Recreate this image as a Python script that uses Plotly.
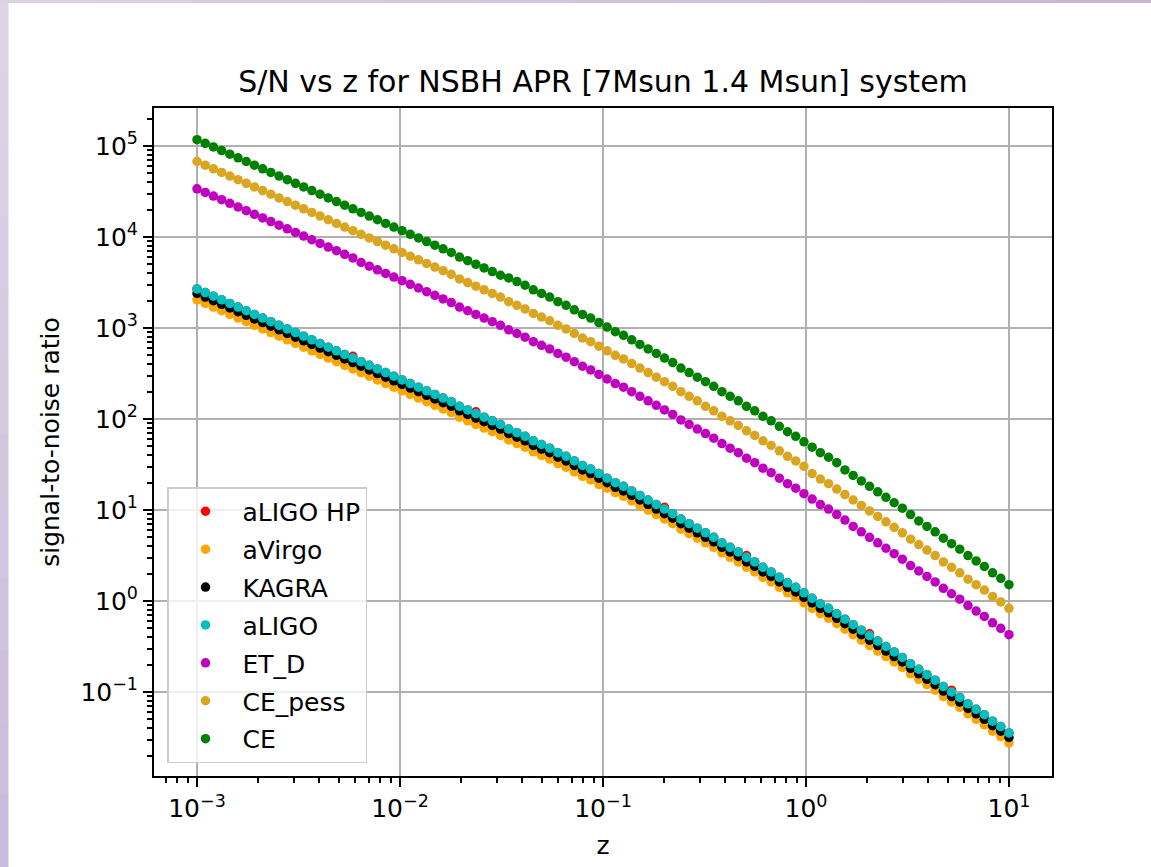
import numpy as np
import plotly.graph_objects as go

# ---------------- data ----------------
# redshift grid (100 log-spaced samples from 1e-3 to 10, as in the figure)
z = np.logspace(-3, 1, 100)

# log10(S/N), one value per sample of z
log_snr_aLIGO = [
    3.43, 3.39, 3.35, 3.31, 3.27, 3.23, 3.19, 3.15, 3.11, 3.07,
    3.03, 2.99, 2.95, 2.91, 2.87, 2.83, 2.79, 2.75, 2.71, 2.67,
    2.63, 2.59, 2.55, 2.51, 2.47, 2.43, 2.39, 2.35, 2.31, 2.27,
    2.23, 2.19, 2.14, 2.10, 2.06, 2.02, 1.98, 1.94, 1.89, 1.85,
    1.81, 1.76, 1.72, 1.68, 1.63, 1.59, 1.54, 1.49, 1.45, 1.40,
    1.35, 1.30, 1.26, 1.21, 1.16, 1.11, 1.06, 1.01, 0.96, 0.90,
    0.85, 0.80, 0.75, 0.70, 0.64, 0.59, 0.54, 0.48, 0.43, 0.37,
    0.32, 0.26, 0.20, 0.15, 0.09, 0.03, -0.03, -0.08, -0.14, -0.20,
    -0.26, -0.32, -0.38, -0.44, -0.50, -0.56, -0.62, -0.69, -0.75, -0.81,
    -0.87, -0.94, -1.00, -1.06, -1.13, -1.19, -1.25, -1.32, -1.38, -1.45]

log_snr_aLIGO_HP = [
    3.43, 3.39, 3.35, 3.31, 3.27, 3.23, 3.19, 3.15, 3.11, 3.07,
    3.03, 2.99, 2.95, 2.91, 2.87, 2.83, 2.79, 2.75, 2.71, 2.69,
    2.63, 2.59, 2.55, 2.51, 2.47, 2.43, 2.39, 2.35, 2.31, 2.27,
    2.23, 2.19, 2.14, 2.10, 2.08, 2.02, 1.98, 1.94, 1.89, 1.85,
    1.81, 1.76, 1.72, 1.68, 1.63, 1.59, 1.54, 1.49, 1.45, 1.40,
    1.35, 1.30, 1.26, 1.21, 1.16, 1.11, 1.06, 1.03, 0.96, 0.90,
    0.85, 0.80, 0.75, 0.70, 0.64, 0.59, 0.54, 0.50, 0.43, 0.37,
    0.32, 0.26, 0.20, 0.15, 0.09, 0.03, -0.03, -0.08, -0.14, -0.20,
    -0.26, -0.32, -0.36, -0.44, -0.50, -0.56, -0.62, -0.69, -0.75, -0.81,
    -0.87, -0.94, -0.98, -1.06, -1.13, -1.19, -1.25, -1.32, -1.38, -1.45]

log_snr_KAGRA = [
    3.38, 3.34, 3.30, 3.26, 3.22, 3.18, 3.14, 3.10, 3.06, 3.02,
    2.98, 2.94, 2.90, 2.86, 2.82, 2.78, 2.74, 2.70, 2.66, 2.62,
    2.58, 2.54, 2.50, 2.46, 2.42, 2.38, 2.34, 2.30, 2.26, 2.22,
    2.18, 2.14, 2.09, 2.05, 2.01, 1.97, 1.93, 1.89, 1.84, 1.80,
    1.76, 1.71, 1.67, 1.63, 1.58, 1.54, 1.49, 1.44, 1.40, 1.35,
    1.30, 1.25, 1.21, 1.16, 1.11, 1.06, 1.01, 0.96, 0.91, 0.85,
    0.80, 0.75, 0.70, 0.65, 0.59, 0.54, 0.49, 0.43, 0.38, 0.32,
    0.27, 0.21, 0.15, 0.10, 0.04, -0.02, -0.08, -0.13, -0.19, -0.25,
    -0.31, -0.37, -0.43, -0.49, -0.55, -0.61, -0.67, -0.74, -0.80, -0.86,
    -0.92, -0.99, -1.05, -1.11, -1.18, -1.24, -1.30, -1.37, -1.43, -1.50]

log_snr_aVirgo = [
    3.31, 3.27, 3.23, 3.19, 3.15, 3.11, 3.07, 3.03, 2.99, 2.95,
    2.91, 2.87, 2.83, 2.79, 2.75, 2.71, 2.67, 2.63, 2.59, 2.55,
    2.51, 2.47, 2.43, 2.39, 2.35, 2.31, 2.27, 2.23, 2.19, 2.15,
    2.11, 2.07, 2.02, 1.98, 1.94, 1.90, 1.86, 1.82, 1.77, 1.73,
    1.69, 1.64, 1.60, 1.56, 1.51, 1.47, 1.42, 1.37, 1.33, 1.28,
    1.24, 1.19, 1.15, 1.10, 1.05, 1.00, 0.95, 0.90, 0.85, 0.79,
    0.74, 0.69, 0.64, 0.59, 0.53, 0.48, 0.43, 0.37, 0.32, 0.26,
    0.21, 0.15, 0.09, 0.04, -0.02, -0.08, -0.14, -0.19, -0.25, -0.31,
    -0.37, -0.43, -0.49, -0.55, -0.61, -0.67, -0.73, -0.80, -0.86, -0.92,
    -0.98, -1.05, -1.11, -1.17, -1.24, -1.30, -1.36, -1.43, -1.49, -1.56]

log_snr_ET_D = [
    4.53, 4.49, 4.45, 4.41, 4.37, 4.33, 4.29, 4.25, 4.21, 4.17,
    4.13, 4.09, 4.05, 4.01, 3.97, 3.93, 3.89, 3.85, 3.81, 3.77,
    3.72, 3.68, 3.64, 3.60, 3.56, 3.52, 3.48, 3.44, 3.40, 3.36,
    3.32, 3.28, 3.23, 3.19, 3.15, 3.11, 3.07, 3.03, 2.98, 2.94,
    2.90, 2.85, 2.81, 2.77, 2.72, 2.68, 2.63, 2.58, 2.54, 2.49,
    2.44, 2.39, 2.35, 2.30, 2.25, 2.20, 2.15, 2.10, 2.05, 1.99,
    1.94, 1.89, 1.84, 1.79, 1.73, 1.68, 1.63, 1.57, 1.52, 1.46,
    1.41, 1.35, 1.29, 1.24, 1.18, 1.12, 1.06, 1.01, 0.95, 0.89,
    0.82, 0.76, 0.70, 0.64, 0.58, 0.52, 0.46, 0.39, 0.33, 0.27,
    0.21, 0.14, 0.08, 0.02, -0.05, -0.11, -0.17, -0.24, -0.30, -0.37]

log_snr_CE_pess = [
    4.83, 4.79, 4.75, 4.71, 4.67, 4.63, 4.59, 4.55, 4.51, 4.47,
    4.43, 4.39, 4.35, 4.31, 4.27, 4.23, 4.19, 4.15, 4.11, 4.07,
    4.03, 3.99, 3.95, 3.91, 3.87, 3.83, 3.79, 3.75, 3.71, 3.67,
    3.63, 3.59, 3.54, 3.50, 3.46, 3.42, 3.38, 3.34, 3.29, 3.25,
    3.21, 3.16, 3.12, 3.08, 3.03, 2.99, 2.94, 2.89, 2.85, 2.80,
    2.75, 2.70, 2.66, 2.61, 2.56, 2.51, 2.46, 2.41, 2.36, 2.30,
    2.25, 2.20, 2.14, 2.09, 2.03, 1.98, 1.93, 1.87, 1.82, 1.76,
    1.71, 1.65, 1.59, 1.54, 1.48, 1.40, 1.34, 1.29, 1.23, 1.17,
    1.11, 1.05, 0.99, 0.93, 0.87, 0.81, 0.75, 0.68, 0.62, 0.56,
    0.50, 0.43, 0.37, 0.31, 0.24, 0.18, 0.12, 0.05, -0.01, -0.08]

log_snr_CE = [
    5.07, 5.03, 4.99, 4.95, 4.91, 4.87, 4.83, 4.79, 4.75, 4.71,
    4.67, 4.63, 4.59, 4.55, 4.51, 4.47, 4.43, 4.39, 4.35, 4.31,
    4.27, 4.23, 4.19, 4.15, 4.11, 4.07, 4.03, 3.99, 3.95, 3.91,
    3.87, 3.83, 3.78, 3.74, 3.70, 3.66, 3.62, 3.58, 3.55, 3.51,
    3.47, 3.42, 3.38, 3.34, 3.29, 3.25, 3.20, 3.15, 3.11, 3.06,
    3.01, 2.96, 2.92, 2.87, 2.82, 2.77, 2.72, 2.67, 2.62, 2.56,
    2.51, 2.46, 2.41, 2.36, 2.30, 2.25, 2.20, 2.14, 2.09, 2.03,
    1.98, 1.92, 1.86, 1.81, 1.75, 1.69, 1.63, 1.58, 1.52, 1.44,
    1.38, 1.32, 1.26, 1.20, 1.14, 1.08, 1.02, 0.95, 0.88, 0.82,
    0.76, 0.69, 0.63, 0.57, 0.50, 0.44, 0.38, 0.31, 0.25, 0.18]

series_names = ["aLIGO HP", "aVirgo", "KAGRA", "aLIGO", "ET_D", "CE_pess", "CE"]
series_values = [log_snr_aLIGO_HP, log_snr_aVirgo, log_snr_KAGRA, log_snr_aLIGO,
                 log_snr_ET_D, log_snr_CE_pess, log_snr_CE]
series_colors = ["#ff0000", "#ffa500", "#000000", "#00bfbf", "#bf00bf", "#daa520", "#008000"]

x_tick_vals = [1e-3, 1e-2, 1e-1, 1e0, 1e1]
x_tick_text = ["10<sup>\u22123</sup>", "10<sup>\u22122</sup>", "10<sup>\u22121</sup>",
               "10<sup>0</sup>", "10<sup>1</sup>"]
y_tick_vals = [1e-1, 1e0, 1e1, 1e2, 1e3, 1e4, 1e5]
y_tick_text = ["10<sup>\u22121</sup>", "10<sup>0</sup>", "10<sup>1</sup>", "10<sup>2</sup>",
               "10<sup>3</sup>", "10<sup>4</sup>", "10<sup>5</sup>"]

# ---------------- layout geometry ----------------
W, H = 1151, 867
L, R, T, B = 154, 1052, 108, 776   # plot-area pixel box
PW, PH = R - L, B - T


def px(xp):
    return (xp - L) / PW


def py(yp):
    return (B - yp) / PH


FONT = "DejaVu Sans"

fig = go.Figure()
for name, vals, color in zip(series_names, series_values, series_colors):
    fig.add_trace(go.Scatter(
        x=z, y=np.power(10.0, np.array(vals)), mode="markers", name=name,
        legendgroup=name,
        marker=dict(size=9.5, color=color, line=dict(width=0)),
    ))

minor_vals = [k * 10.0 ** n for n in range(-5, 7) for k in range(2, 10)]

axis_common = dict(
    type="log", showline=True, linecolor="black", linewidth=2, mirror=True,
    ticks="outside", ticklen=9, tickwidth=2, tickcolor="black",
    showgrid=True, gridcolor="#b0b0b0", gridwidth=2, zeroline=False,
    tickfont=dict(family=FONT, size=25, color="black"),
    minor=dict(tickmode="array", tickvals=minor_vals, ticks="outside", ticklen=5,
               tickwidth=1.5, tickcolor="black", showgrid=False),
)

fig.update_xaxes(**axis_common, range=[-3.212, 1.212], tickmode="array",
                 tickvals=x_tick_vals, ticktext=x_tick_text,
                 title=dict(text="z", font=dict(family=FONT, size=25, color="black"), standoff=14))
fig.update_yaxes(**axis_common, range=[-1.923, 5.418], tickmode="array",
                 tickvals=y_tick_vals, ticktext=y_tick_text,
                 title=dict(text="signal-to-noise ratio", font=dict(family=FONT, size=25, color="black"),
                            standoff=14))

# purple page frame (top strip + left strip with gradient)
shapes = [dict(type="rect", xref="paper", yref="paper", layer="below",
               x0=px(0), x1=px(W + 5), y0=py(H + 5), y1=py(0),
               fillcolor="white", line=dict(width=0))]
n_seg = 12
c_top = np.array([0xde, 0xd6, 0xe7])
c_bot = np.array([0xca, 0xbb, 0xdb])
for i in range(n_seg):
    c = c_top + (c_bot - c_top) * (i + 0.5) / n_seg
    shapes.append(dict(type="rect", xref="paper", yref="paper", layer="below",
                       x0=px(-2), x1=px(8.5),
                       y0=py(H * (i + 1) / n_seg + 1), y1=py(H * i / n_seg),
                       fillcolor="rgb(%d,%d,%d)" % tuple(c), line=dict(width=0)))
c_l = np.array([0xdd, 0xd3, 0xe6])
c_r = np.array([0xc8, 0xb5, 0xd9])
for i in range(n_seg):
    c = c_l + (c_r - c_l) * (i + 0.5) / n_seg
    shapes.append(dict(type="rect", xref="paper", yref="paper", layer="below",
                       x0=px(W * i / n_seg), x1=px(W * (i + 1) / n_seg + 1),
                       y0=py(3), y1=py(-2),
                       fillcolor="rgb(%d,%d,%d)" % tuple(c), line=dict(width=0)))

fig.update_layout(
    width=W, height=H,
    margin=dict(l=L, r=W - R, t=T, b=H - B, pad=0),
    paper_bgcolor="white", plot_bgcolor="white",
    font=dict(family=FONT, size=25, color="black"),
    title=dict(text="S/N vs z for NSBH APR [7Msun 1.4 Msun] system",
               font=dict(family=FONT, size=30, color="black"),
               x=0.5, xref="paper", xanchor="center",
               y=1 - 81 / H, yref="container", yanchor="middle"),
    showlegend=True,
    legend=dict(x=px(167), y=py(763), xanchor="left", yanchor="bottom",
                bgcolor="rgba(255,255,255,0.8)", bordercolor="#cccccc", borderwidth=1.5,
                font=dict(family=FONT, size=25, color="black"),
                tracegroupgap=2.4, itemwidth=64),
    shapes=shapes,
)

fig.write_html("out.html")
